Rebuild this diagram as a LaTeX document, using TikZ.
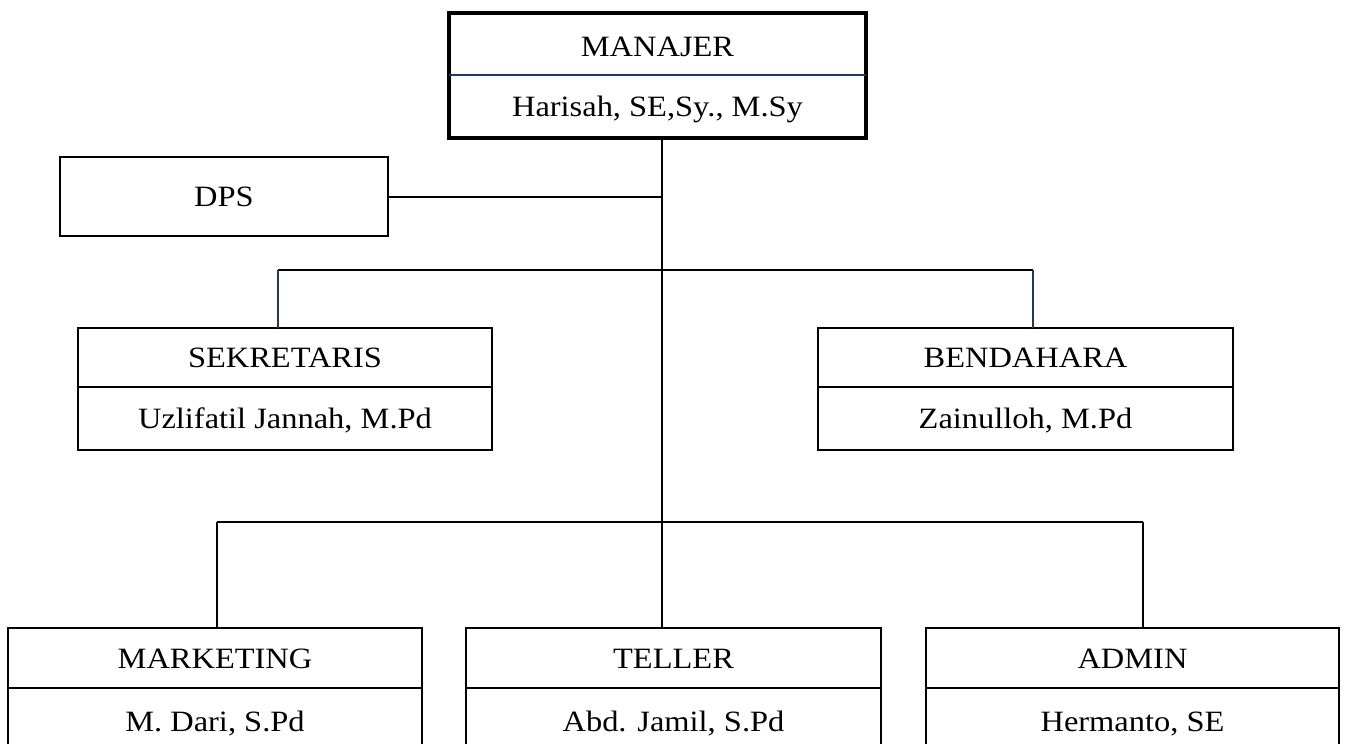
\documentclass[tikz,border=0pt]{standalone}
\usepackage{fontspec}
\setmainfont{Liberation Serif}[FakeStretch=1.1]
\definecolor{navy}{HTML}{1F3864}
\begin{document}
\begin{tikzpicture}[x=1pt,y=-1pt,
  orgbox/.style={draw, line width=2.8pt, inner sep=0pt, outer sep=0pt},
  mgrbox/.style={draw, line width=4.8pt, inner sep=0pt, outer sep=0pt},
  divline/.style={line width=1.4pt},
  conn/.style={line width=2pt},
  lbl/.style={anchor=base, inner sep=0pt, font=\fontsize{29.5}{34}\selectfont}]
\clip (0,0) rectangle (1347,744);
\fill[white] (0,0) rectangle (1347,744);
% boxes
\node[mgrbox, minimum width=417pt, minimum height=125pt] (mgr) at (657.5,75.5) {};
\node[orgbox, minimum width=328pt, minimum height=79pt] (dps) at (224,196.5) {};
\node[orgbox, minimum width=414pt, minimum height=122pt] (sek) at (285,389) {};
\node[orgbox, minimum width=415pt, minimum height=122pt] (bend) at (1025.5,389) {};
\node[orgbox, minimum width=414pt, minimum height=132pt] (mkt) at (215,694) {};
\node[orgbox, minimum width=415pt, minimum height=132pt] (tel) at (673.5,694) {};
\node[orgbox, minimum width=413pt, minimum height=132pt] (adm) at (1132.5,694) {};
% dividers
\draw[divline, navy] (mgr.west |- 0,75) -- (mgr.east |- 0,75);
\draw[divline] (sek.west |- 0,387) -- (sek.east |- 0,387);
\draw[divline] (bend.west |- 0,387) -- (bend.east |- 0,387);
\draw[divline] (mkt.west |- 0,688) -- (mkt.east |- 0,688);
\draw[divline] (tel.west |- 0,688) -- (tel.east |- 0,688);
\draw[divline] (adm.west |- 0,688) -- (adm.east |- 0,688);
% labels
\node[lbl] (mgrt) at (657.5,56) {MANAJER};
\node[lbl] (mgrn) at (657.5,116) {Harisah, SE,Sy., M.Sy};
\node[lbl] (dpst) at (224,206) {DPS};
\node[lbl] (sekt) at (285,367) {SEKRETARIS};
\node[lbl] (sekn) at (285,428.5) {Uzlifatil Jannah, M.Pd};
\node[lbl] (bendt) at (1025.5,367) {BENDAHARA};
\node[lbl] (bendn) at (1025.5,428.5) {Zainulloh, M.Pd};
\node[lbl] (mktt) at (215,668) {MARKETING};
\node[lbl] (mktn) at (215,731) {M. Dari, S.Pd};
\node[lbl] (telt) at (673.5,668) {TELLER};
\node[lbl] (teln) at (673.5,731) {Abd. Jamil, S.Pd};
\node[lbl] (admt) at (1132.5,668) {ADMIN};
\node[lbl] (admn) at (1132.5,731) {Hermanto, SE};
% junctions
\coordinate (j1) at (662,196.5);
\coordinate (j2) at (662,270);
\coordinate (j3) at (662,522);
\coordinate (s1) at (278,270);
\coordinate (b1) at (1033,270);
\coordinate (m1) at (217,522);
\coordinate (a1) at (1143,522);
% connectors
\draw[conn] (mgr.south -| j1) -- (j3);
\draw[conn] (dps.east) -- (j1);
\draw[conn] (s1) -- (b1);
\draw[conn, navy] (s1) -- (s1 |- sek.north);
\draw[conn, navy] (b1) -- (b1 |- bend.north);
\draw[conn] (m1) -- (a1);
\draw[conn] (m1) -- (m1 |- mkt.north);
\draw[conn] (j3) -- (j3 |- tel.north);
\draw[conn] (a1) -- (a1 |- adm.north);
\end{tikzpicture}
\end{document}
